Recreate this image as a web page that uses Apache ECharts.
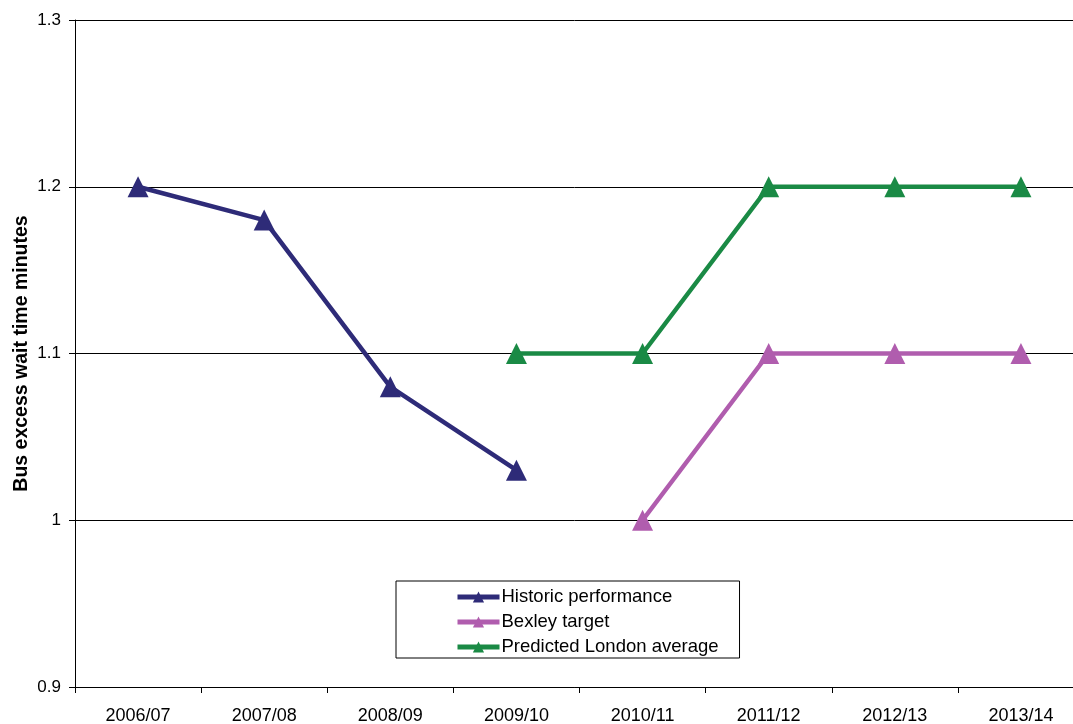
<!DOCTYPE html>
<html>
<head>
<meta charset="utf-8">
<script src="https://cdn.jsdelivr.net/npm/echarts@6/dist/echarts.min.js"></script>
<style>html,body{margin:0;padding:0;background:#fff}#c{width:1073px;height:724px}</style>
</head>
<body>
<div id="c"></div>
<script>
const categories = ['2006/07','2007/08','2008/09','2009/10','2010/11','2011/12','2012/13','2013/14'];
const historic = [1.2, 1.18, 1.08, 1.03, null, null, null, null];
const bexley = [null, null, null, null, 1.0, 1.1, 1.1, 1.1];
const london = [null, null, null, 1.1, 1.1, 1.2, 1.2, 1.2];
const yTicks = [0.9, 1.0, 1.1, 1.2, 1.3];
const seriesNames = ['Historic performance', 'Bexley target', 'Predicted London average'];

const chart = echarts.init(document.getElementById('c'));
const font = 'Liberation Sans, Arial, sans-serif';
function mk(name, data, color) {
  return {
    name: name, type: 'line', data: data, color: color,
    symbol: 'triangle', symbolSize: 21, showSymbol: true,
    lineStyle: { width: 4.5, color: color },
    itemStyle: { color: color },
    connectNulls: false, animation: false
  };
}
chart.setOption({
  animation: false,
  backgroundColor: '#fff',
  grid: { left: 75, width: 1009, top: 20, height: 667, containLabel: false, outerBoundsMode: 'none' },
  xAxis: {
    type: 'category', data: categories, boundaryGap: true,
    axisLine: { lineStyle: { color: '#000', width: 1 } },
    axisTick: { show: true, length: 6, inside: false, alignWithLabel: false, lineStyle: { color: '#000' } },
    axisLabel: { color: '#000', fontSize: 18, fontFamily: font, margin: 20 },
    splitLine: { show: false }
  },
  yAxis: {
    type: 'value', min: yTicks[0], max: yTicks[yTicks.length - 1], interval: 0.1,
    name: 'Bus excess wait time minutes', nameLocation: 'middle', nameGap: 43, nameRotate: 90,
    nameMoveOverlap: false,
    nameTextStyle: { color: '#000', fontSize: 19.5, fontWeight: 'bold', fontFamily: font },
    axisLine: { show: true, lineStyle: { color: '#000', width: 1 } },
    axisTick: { show: true, length: 6, lineStyle: { color: '#000' } },
    axisLabel: { color: '#000', fontSize: 17, fontFamily: font, margin: 14,
      formatter: v => { const r = Math.round(v * 10) / 10; return r === 1 ? '1' : String(r); } },
    splitLine: { show: true, lineStyle: { color: '#000', width: 1 } }
  },
  legend: {
    orient: 'vertical', left: 396, top: 581,
    padding: [6, 21, 1, 59],
    itemWidth: 42, itemHeight: 14, itemGap: 5,
    borderColor: '#000', borderWidth: 1, backgroundColor: '#fff',
    lineStyle: { width: 5 },
    textStyle: { color: '#000', fontSize: 18.5, lineHeight: 20, fontFamily: font, padding: [0,0,0,-3] },
    data: seriesNames
  },
  series: [
    mk(seriesNames[0], historic, '#2E2B78'),
    mk(seriesNames[1], bexley, '#B05DAE'),
    mk(seriesNames[2], london, '#1A8A45')
  ]
});
</script>
</body>
</html>
